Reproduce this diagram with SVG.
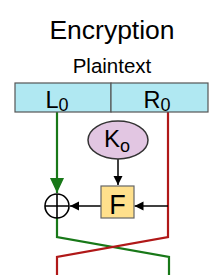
<svg xmlns="http://www.w3.org/2000/svg" width="219" height="275" viewBox="0 0 219 275">
<style>
text{font-family:"Liberation Sans",Arial,sans-serif;fill:#000}
.g{stroke:#187818;stroke-width:2.2;fill:none}
.r{stroke:#b01818;stroke-width:2.2;fill:none}
.k{stroke:#000;stroke-width:1.5;fill:none}
</style>
<defs>
<marker id="ah" markerWidth="10" markerHeight="10" refX="9" refY="5" orient="auto" markerUnits="userSpaceOnUse">
<path d="M0,0.5 L9,5 L0,9.5 Z" fill="#000"/>
</marker>
<marker id="gh" markerWidth="16" markerHeight="16" refX="15" refY="7" orient="auto" markerUnits="userSpaceOnUse">
<path d="M0,0 L15,7 L0,14 Z" fill="#187818"/>
</marker>
</defs>
<rect width="219" height="275" fill="#fff"/>
<g id="title"><text x="112" y="39" font-size="26.5" text-anchor="middle">Encryption</text></g>
<g id="plaintext"><text x="112" y="72.5" font-size="20.5" text-anchor="middle">Plaintext</text></g>
<g id="connectors">
<path class="g" d="M57,112 V193" marker-end="url(#gh)"/>
<path class="g" d="M57,218 V237 L169,257 V275"/>
<path class="r" d="M168,112 V237 L57,257 V275"/>
<path class="k" d="M118,159 V185" marker-end="url(#ah)"/>
<path class="k" d="M168,206 H134.5" marker-end="url(#ah)"/>
<path class="k" d="M101,206 H70" marker-end="url(#ah)"/>
</g>
<g id="L0">
<rect x="15" y="83" width="96" height="29" fill="#b0e8f2" stroke="#555" stroke-width="1.2"/>
<text x="45.5" y="107.5" font-size="23.5">L<tspan font-size="18" dy="3">0</tspan></text>
</g>
<g id="R0">
<rect x="111" y="83" width="97" height="29" fill="#b0e8f2" stroke="#555" stroke-width="1.2"/>
<text x="143.5" y="107.5" font-size="23.5">R<tspan font-size="18" dy="3">0</tspan></text>
</g>
<g id="K0">
<ellipse cx="118" cy="140" rx="30" ry="19" fill="#e2c6e2" stroke="#333" stroke-width="1.5"/>
<text x="104" y="147" font-size="24">K<tspan font-size="18" dy="5">o</tspan></text>
</g>
<g id="F">
<rect x="101" y="186" width="33" height="32" fill="#ffe08c" stroke="#666" stroke-width="1.2"/>
<text x="117.5" y="213.5" font-size="27" text-anchor="middle">F</text>
</g>
<g id="xor">
<circle cx="57" cy="206" r="12" fill="#fff" stroke="#000" stroke-width="1.6"/>
<path d="M45,206 H69 M57,194 V218" stroke="#000" stroke-width="1.6"/>
</g>
</svg>
